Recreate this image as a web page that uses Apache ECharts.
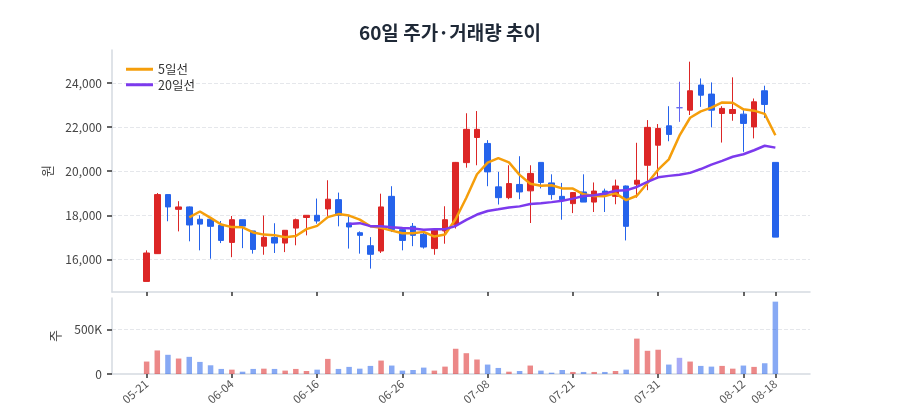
<!DOCTYPE html>
<html>
<head>
<meta charset="utf-8">
<script src="https://cdn.jsdelivr.net/npm/echarts@6/dist/echarts.min.js"></script>
<style>
  html, body { margin: 0; padding: 0; background: #fff; }
  #chart { width: 900px; height: 420px; }
</style>
</head>
<body>
<div id="chart"></div>
<script>
// 날짜 (60 거래일)
const dates = ['05-21','05-22','05-23','05-26','05-27','05-28','05-29','05-30','06-04','06-05',
  '06-06','06-09','06-10','06-11','06-12','06-13','06-16','06-17','06-18','06-19',
  '06-20','06-23','06-24','06-25','06-26','06-27','06-30','07-01','07-02','07-03',
  '07-04','07-07','07-08','07-09','07-11','07-14','07-15','07-16','07-17','07-18',
  '07-21','07-22','07-23','07-24','07-25','07-28','07-29','07-30','07-31','08-01',
  '08-04','08-05','08-06','08-07','08-08','08-11','08-12','08-13','08-14','08-18'];

const opens = [15000,16260,18940,18270,18380,17820,17820,17545,16770,17800,
  17290,16600,16990,16740,17420,17900,18000,18290,18710,17650,
  17210,16620,16380,18860,17350,17500,17140,16490,17290,17590,
  20390,21530,21260,19290,18800,19400,19110,20400,19470,18860,
  18530,19060,18600,19100,18860,19330,19410,20270,21180,22060,
  22880,22770,23910,23500,22620,22620,22590,22010,23650,20400];
const closes = [16290,18940,18380,18380,17560,17600,17500,16860,17800,17510,
  16450,17000,16740,17320,17800,18000,17740,18730,18000,17470,
  17090,16230,18380,17350,16860,17090,16560,17320,17800,20400,
  21900,21900,19970,18800,19440,19060,19900,19490,18940,18710,
  19030,18600,19100,18910,19330,17500,19590,21990,21940,21670,
  22880,23650,23450,22770,22850,22800,22170,23150,23030,17010];
const lows = [15000,16250,17730,17270,16820,16410,16030,16740,16100,16510,
  16260,16210,16290,16330,16640,17090,17620,17970,17500,16490,
  16260,15580,16290,17240,16410,16600,16490,16210,16710,17400,
  20160,20270,19320,18490,18730,18730,17650,19220,18710,17800,
  18100,18600,18150,18150,18500,16860,18800,19140,19670,21360,
  22240,22550,22920,21990,21300,22290,20880,21490,22420,17010];
const highs = [16410,19010,18950,18640,18400,18000,17830,17740,17970,17800,
  17290,17990,17640,17330,17850,18010,18760,19590,19030,18000,
  17270,17010,18980,19320,17470,17650,17240,17350,18410,20420,
  22630,22730,21410,19970,20270,20680,20270,20400,19860,19470,
  19050,19860,19490,19210,19620,19350,21290,22320,22140,22950,
  24060,24970,24210,24030,22950,24260,22770,23300,23880,20400];

// 거래량
const volumes = [140000,265000,216000,174000,193000,136000,98000,57000,49000,26000,
  57000,60000,57000,38000,57000,34000,49000,170000,57000,80000,
  60000,91000,151000,95000,38000,45000,72000,38000,83000,284000,
  234000,163000,106000,68000,26000,34000,95000,38000,15000,45000,
  23000,23000,23000,23000,34000,49000,398000,261000,273000,106000,
  182000,140000,91000,83000,91000,60000,95000,80000,121000,814000];

// 이동평균선
const ma5 = ['-','-','-','-',17910,18172,17884,17580,17464,17454,
  17224,17124,17100,17004,17062,17372,17520,17918,18054,17988,
  17806,17504,17434,17304,17182,17182,17248,17036,17126,17834,
  18796,19864,20394,20594,20402,19834,19434,19338,19366,19220,
  19214,18954,18876,18870,18994,18688,18886,19464,20070,20538,
  21614,22426,22718,22884,23120,23104,22808,22748,22600,21632];
const ma20 = ['-','-','-','-','-','-','-','-','-','-',
  '-','-','-','-','-','-','-','-','-',17604,
  17644,17508,17508,17457,17422,17396,17349,17372,17372,17517,
  17789,18034,18196,18270,18352,18405,18513,18551,18598,18660,
  18757,18875,18911,18989,19113,19133,19285,19518,19725,19789,
  19838,19925,20099,20298,20468,20655,20769,20952,21156,21071];

// 라벨을 표시할 날짜 인덱스
const labelDays = [0, 8, 16, 24, 32, 40, 48, 56, 59];

const UP = '#dc2626', DOWN = '#2563eb', FLAT = '#6366f1';
const FONT = 'Noto Sans CJK KR';

// 카테고리 축: 하루에 2칸, 양쪽 여백 6칸 (축 끝 여백 맞춤)
const PAD = 6;
const SLOTS = PAD * 2 + dates.length * 2 - 1;
const slot = i => PAD + i * 2;
const cats = [];
for (let k = 0; k < SLOTS; k++) {
  const i = (k - PAD) / 2;
  cats.push(Number.isInteger(i) && i >= 0 && i < dates.length ? dates[i] : '_' + k);
}
const labelSlots = new Set(labelDays.map(slot));
const showAt = idx => labelSlots.has(idx);

function candleColor(i) {
  if (closes[i] > opens[i]) return UP;
  if (closes[i] < opens[i]) return DOWN;
  return FLAT;
}

const candleData = dates.map((d, i) => {
  const c = candleColor(i);
  return {
    value: [slot(i), opens[i], closes[i], lows[i], highs[i]],
    itemStyle: { color: c, color0: c, borderColor: c, borderColor0: c }
  };
});
const volData = volumes.map((v, i) => ({
  value: [slot(i), v],
  itemStyle: { color: candleColor(i), opacity: 0.55 }
}));
const ma5Data = ma5.map((v, i) => [slot(i), v]);
const ma20Data = ma20.map((v, i) => [slot(i), v]);

const chart = echarts.init(document.getElementById('chart'));

const axisLineStyle = { color: '#d5dae1', width: 1.5 };
const tickStyle = { color: '#333', width: 1.5 };

chart.setOption({
  animation: false,
  textStyle: { fontFamily: FONT },
  title: {
    text: '60일 주가·거래량 추이',
    left: 'center',
    top: 18,
    textStyle: { fontSize: 19, fontWeight: 'bold', color: '#1f2937', fontFamily: FONT }
  },
  legend: {
    data: ['5일선', '20일선'],
    orient: 'vertical',
    left: 121,
    top: 58,
    icon: 'rect',
    itemWidth: 27,
    itemHeight: 3,
    itemGap: 3,
    textStyle: { fontSize: 12.5, color: '#333', fontFamily: FONT }
  },
  grid: [
    { left: 112, right: 90, top: 50, height: 242 },
    { left: 112, right: 90, top: 298, height: 76 }
  ],
  xAxis: [
    {
      type: 'category', gridIndex: 0, data: cats, boundaryGap: true,
      axisLine: { show: true, onZero: false, lineStyle: axisLineStyle },
      axisTick: { show: true, alignWithLabel: true, interval: showAt, length: 4, lineStyle: tickStyle },
      axisLabel: { show: false, interval: showAt },
      splitLine: { show: false }
    },
    {
      type: 'category', gridIndex: 1, data: cats, boundaryGap: true,
      axisLine: { show: true, onZero: false, lineStyle: axisLineStyle },
      axisTick: { show: true, alignWithLabel: true, interval: showAt, length: 4, lineStyle: tickStyle },
      axisLabel: {
        interval: showAt,
        rotate: 40,
        fontSize: 11.5,
        color: '#555',
        margin: 8
      },
      splitLine: { show: false }
    }
  ],
  yAxis: [
    {
      type: 'value', gridIndex: 0, min: 14520, max: 25500,
      name: '원', nameLocation: 'middle', nameGap: 58,
      nameTextStyle: { fontSize: 13, color: '#444' },
      axisLine: { show: true, lineStyle: axisLineStyle },
      axisTick: { show: true, length: 5, lineStyle: tickStyle },
      axisLabel: {
        showMinLabel: false, showMaxLabel: false,
        formatter: v => v.toLocaleString('en-US'),
        fontSize: 12, color: '#444', margin: 10
      },
      splitLine: { show: true, showMinLine: false, showMaxLine: false, lineStyle: { type: 'dashed', color: '#e5e7eb' } }
    },
    {
      type: 'value', gridIndex: 1, min: 0, max: 855000, interval: 500000,
      name: '주', nameLocation: 'middle', nameGap: 50,
      nameTextStyle: { fontSize: 13, color: '#444' },
      axisLine: { show: true, lineStyle: axisLineStyle },
      axisTick: { show: true, length: 5, lineStyle: tickStyle },
      axisLabel: {
        showMaxLabel: false,
        formatter: v => v === 0 ? '0' : (v / 1000) + 'K',
        fontSize: 12, color: '#444', margin: 10
      },
      splitLine: { show: true, showMinLine: false, showMaxLine: false, lineStyle: { type: 'dashed', color: '#e5e7eb' } }
    }
  ],
  series: [
    {
      name: '주가', type: 'candlestick', xAxisIndex: 0, yAxisIndex: 0,
      encode: { x: 0, y: [1, 2, 3, 4] },
      barWidth: 6,
      itemStyle: { borderWidth: 1 },
      data: candleData
    },
    {
      name: '5일선', type: 'line', xAxisIndex: 0, yAxisIndex: 0,
      data: ma5Data, showSymbol: false, symbol: 'none',
      lineStyle: { color: '#f59e0b', width: 2.5 },
      itemStyle: { color: '#f59e0b' }
    },
    {
      name: '20일선', type: 'line', xAxisIndex: 0, yAxisIndex: 0,
      data: ma20Data, showSymbol: false, symbol: 'none',
      lineStyle: { color: '#7c3aed', width: 2.5 },
      itemStyle: { color: '#7c3aed' }
    },
    {
      name: '거래량', type: 'bar', xAxisIndex: 1, yAxisIndex: 1,
      barWidth: 5.5,
      data: volData
    }
  ]
});
</script>
</body>
</html>
